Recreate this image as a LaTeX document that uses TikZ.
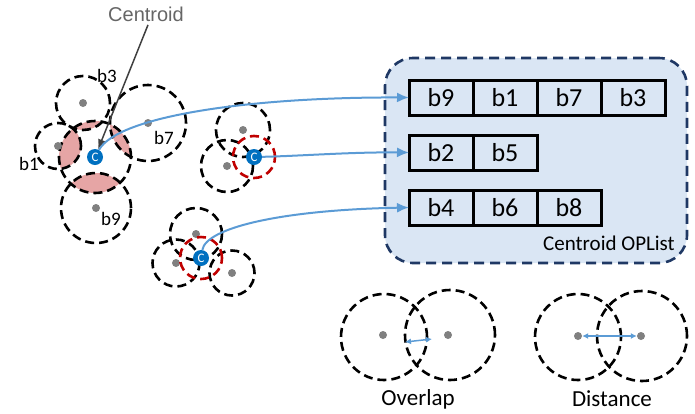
\documentclass[tikz,border=0pt]{standalone}
\usepackage{fontspec}
\setmainfont{Carlito}
\newfontfamily\arialfont{Liberation Sans}
\usetikzlibrary{arrows.meta, matrix}
\definecolor{panelfill}{HTML}{DAE6F4}
\definecolor{panelline}{HTML}{1F3864}
\definecolor{lenspink}{HTML}{E6A5A5}
\definecolor{ringred}{HTML}{C00000}
\definecolor{dotgray}{HTML}{808080}
\definecolor{linkblue}{HTML}{5B9BD5}
\definecolor{cblue}{HTML}{0070C0}
\definecolor{notegray}{HTML}{666666}

\begin{document}
\begin{tikzpicture}[x = 1pt, y = -1pt,
    ring/.style = {circle, draw, line width = 2.6pt, dash pattern = on 9pt off 5pt, inner sep = 0pt, minimum size = #1},
    redring/.style = {ring = #1, draw = ringred},
    bdot/.style = {circle, fill = dotgray, inner sep = 0pt, minimum size = 8pt},
    cmark/.style = {circle, fill = cblue, text = white, inner sep = 0pt, minimum size = 16pt, font = \fontsize{13}{13}\selectfont},
    lens/.style = {fill = lenspink},
    blabel/.style = {font = \fontsize{19}{19}\selectfont},
    link/.style = {draw = linkblue, line width = 2pt, -{Latex[length = 12pt, width = 10pt]}},
    span/.style = {draw = linkblue, line width = 1.5pt, {Latex[length = 6pt, width = 6pt]}-{Latex[length = 6pt, width = 6pt]}},
    cell/.style = {draw, line width = 3pt, minimum width = 64pt, minimum height = 35pt, inner sep = 0pt, outer sep = 0pt, font = \fontsize{26}{26}\selectfont},
    panel/.style = {draw = panelline, fill = panelfill, line width = 2.6pt, dash pattern = on 10pt off 6pt, rounded corners = 28pt}]
  \useasboundingbox (0,0) rectangle (695,413);

  % list panel
  \node[panel, minimum width = 302pt, minimum height = 205pt] (oplist) at (536,160.5) {};
  \matrix (opl) [matrix of nodes, nodes = {cell}, column sep = -3pt, row sep = 17pt] at (537,152.5)
  {
    b9 & b1 & b7 & b3 \\
    b2 & b5 &    &    \\
    b4 & b6 & b8 &    \\
  };
  \node[font = \fontsize{21}{21}\selectfont] (oplname) at (609,243) {Centroid OPList};

  % first cluster
  \coordinate (g1) at (95,157);
  \begin{scope}
    \clip (g1) circle (36pt);
    \fill[lens] (58,146) circle (23pt);
    \fill[lens] (148,123) circle (38pt);
    \fill[lens] (96,208) circle (35pt);
    \fill[lens] (83,103) circle (27pt);
  \end{scope}
  \node[ring = 54pt] (b3) at (83,103) {};
  \node[ring = 76pt] (b7) at (148,123) {};
  \node[ring = 46pt] (b1) at (58,146) {};
  \node[ring = 72pt] (cen1) at (g1) {};
  \node[ring = 70pt] (b9) at (96,208) {};
  \foreach \b in {b3, b7, b1, b9}
    \node[bdot] (\b-d) at (\b) {};
  \node[blabel] (b3-t) at (107,76) {b3};
  \node[blabel] (b7-t) at (164,138) {b7};
  \node[blabel] (b1-t) at (29,164) {b1};
  \node[blabel] (b9-t) at (111,219) {b9};

  % second cluster
  \node[ring = 54pt] (b2) at (243,130) {};
  \node[ring = 52pt] (b5) at (227,166) {};
  \node[redring = 42pt] (cen2) at (254,157) {};
  \node[bdot] (b2-d) at (b2) {};
  \node[bdot] (b5-d) at (b5) {};

  % third cluster
  \node[ring = 52pt] (b4) at (196,234) {};
  \node[ring = 47pt] (b6) at (176,263) {};
  \node[ring = 45pt] (b8) at (232,273) {};
  \node[bdot] (b4-d) at (b4) {};
  \node[bdot] (b6-d) at (b6) {};
  \node[bdot] (b8-d) at (b8) {};
  \node[redring = 42pt] (cen3) at (201,258) {};

  % centroid note
  \node[font = \arialfont\fontsize{20}{20}\selectfont, text = notegray] (note) at (146,14) {Centroid};

  % centroid marks
  \node[cmark] (c1) at (g1) {C};
  \node[cmark] (c2) at (cen2) {C};
  \node[cmark] (c3) at (cen3) {C};

  \draw[draw = black!75, line width = 1.5pt, -{Latex[length = 10pt, width = 8pt]}] ([xshift = 2pt]note.south) -- (c1);

  \draw[link] (c1) .. controls (118,116) and (250,97) .. (opl-1-1.west);
  \draw[link] (c2) .. controls (300,156) and (350,152) .. (opl-2-1.west);
  \draw[link] (c3) .. controls (206,228) and (280,210) .. (opl-3-1.west);

  % overlap example
  \node[ring = 86pt] (ovl) at (384,337) {};
  \node[ring = 90pt] (ovr) at (450,335) {};
  \node[bdot] (ovl-d) at (383,335) {};
  \node[bdot] (ovr-d) at (448,335) {};
  \coordinate (ova) at (405,342);
  \coordinate (ovb) at (432,339);
  \draw[span] (ova) -- (ovb);
  \node[font = \fontsize{23}{23}\selectfont] (ovtxt) at (418,399) {Overlap};

  % distance example
  \node[ring = 86pt] (dsl) at (578,337) {};
  \node[ring = 90pt] (dsr) at (642,336) {};
  \node[bdot] (dsl-d) at (578,336) {};
  \node[bdot] (dsr-d) at (641,336) {};
  \draw[span] (dsl-d) -- (dsr-d);
  \node[font = \fontsize{23}{23}\selectfont] (dstxt) at (612,399) {Distance};
\end{tikzpicture}
\end{document}
